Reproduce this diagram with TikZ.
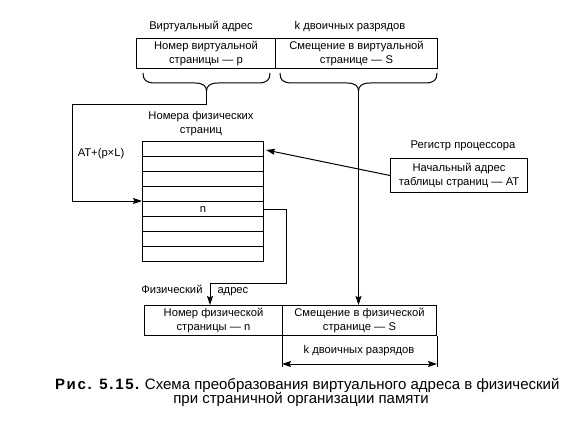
\documentclass[tikz,border=0pt]{standalone}
\usepackage{fontspec}
\setmainfont{Liberation Sans}
\usetikzlibrary{arrows.meta,calc}
\begin{document}
\begin{tikzpicture}[x=1pt,y=-1pt,
  >={Stealth[length=9pt,width=6pt,inset=1.5pt]}, line width=1pt,
  txt/.style={font=\fontsize{11.2}{14}\selectfont, align=center, inner sep=0pt},
  box/.style={draw, txt, minimum height=30pt, anchor=north west},
  row/.style={draw, txt, minimum width=121pt, minimum height=15pt, anchor=north west},
  captxt/.style={font=\fontsize{15}{15}\selectfont, inner sep=0pt}]
\useasboundingbox (0,0) rectangle (586,425);
% top virtual address
\node[box, minimum width=139pt] (vb1) at (136,38) {Номер виртуальной\\страницы — p};
\node[box, minimum width=162pt] (vb2) at (275,38) {Смещение в виртуальной\\странице — S};
\node[txt] (lva) at (201,27) {Виртуальный адрес};
\node[txt] (lk1) at (350,27) {k двоичных разрядов};
% braces
\draw (143,73) .. controls (143,80) and (146,83) .. (155,83) -- (195,83) .. controls (203,83) and (206.5,86) .. (206.5,91);
\draw (270,73) .. controls (270,80) and (267,83) .. (258,83) -- (218,83) .. controls (210,83) and (206.5,86) .. (206.5,91);
\coordinate (ltip) at (206.5,91);
\draw (280,73) .. controls (280,80) and (283,83) .. (292,83) -- (347,83) .. controls (355,83) and (358.5,86) .. (358.5,91);
\draw (437,73) .. controls (437,80) and (434,83) .. (425,83) -- (370,83) .. controls (362,83) and (358.5,86) .. (358.5,91);
\coordinate (rtip) at (358.5,91);
% page table
\node[txt] (thead) at (201,124) {Номера физических\\страниц};
\node[row] (r1) at (142,141) {};
\node[row] (r2) at (142,156) {};
\node[row] (r3) at (142,171) {};
\node[row] (r4) at (142,186) {};
\node[row] (r5) at (142,201) {n};
\node[row] (r6) at (142,216) {};
\node[row] (r7) at (142,231) {};
\node[row] (r8) at (142,246) {};
\node[txt] (lat) at (101,154) {AT+(p×L)};
% left connector
\coordinate (lc1) at (72,105);
\draw[->] (ltip) |- (lc1) |- (r5.north west);
% register
\node[txt] (lreg) at (463,146) {Регистр процессора};
\node[box, minimum width=137pt, minimum height=34pt] (reg) at (390,158) {Начальный адрес\\таблицы страниц — AT};
\draw[->] (reg.west) -- ($(r1.east)+(2,1)$);
% physical address
\node[box, minimum width=138pt] (pb1) at (144,305) {Номер физической\\страницы — n};
\node[box, minimum width=154pt] (pb2) at (282,305) {Смещение в физической\\странице — S};
\coordinate (pc) at (286,283);
\coordinate (pa) at (210,283);
\draw[->] (r5.east) -| (pc) -- (pa) -- (pa |- pb1.north);
\node[txt, anchor=base east] (lph) at (203,293) {Физический};
\node[txt, anchor=base west] (lad) at (217,293) {адрес};
\draw[->] (rtip) -- (rtip |- pb2.north);
% bit width
\draw (pb2.south west) -- ++(0,31);
\draw (pb2.south east) -- ++(0,31);
\draw[<->] ($(pb2.south west)+(0,28)$) -- ($(pb2.south east)+(0,28)$);
\node[txt] (lk2) at (359,351) {k двоичных разрядов};
% caption
\node[captxt, anchor=base east] (c1) at (560,389.5) {{\bfseries\addfontfeature{LetterSpace=11}Рис. 5.15.} Схема преобразования виртуального адреса в физический};
\node[captxt, anchor=base] (c2) at (301,403.5) {при страничной организации памяти};
\end{tikzpicture}
\end{document}
